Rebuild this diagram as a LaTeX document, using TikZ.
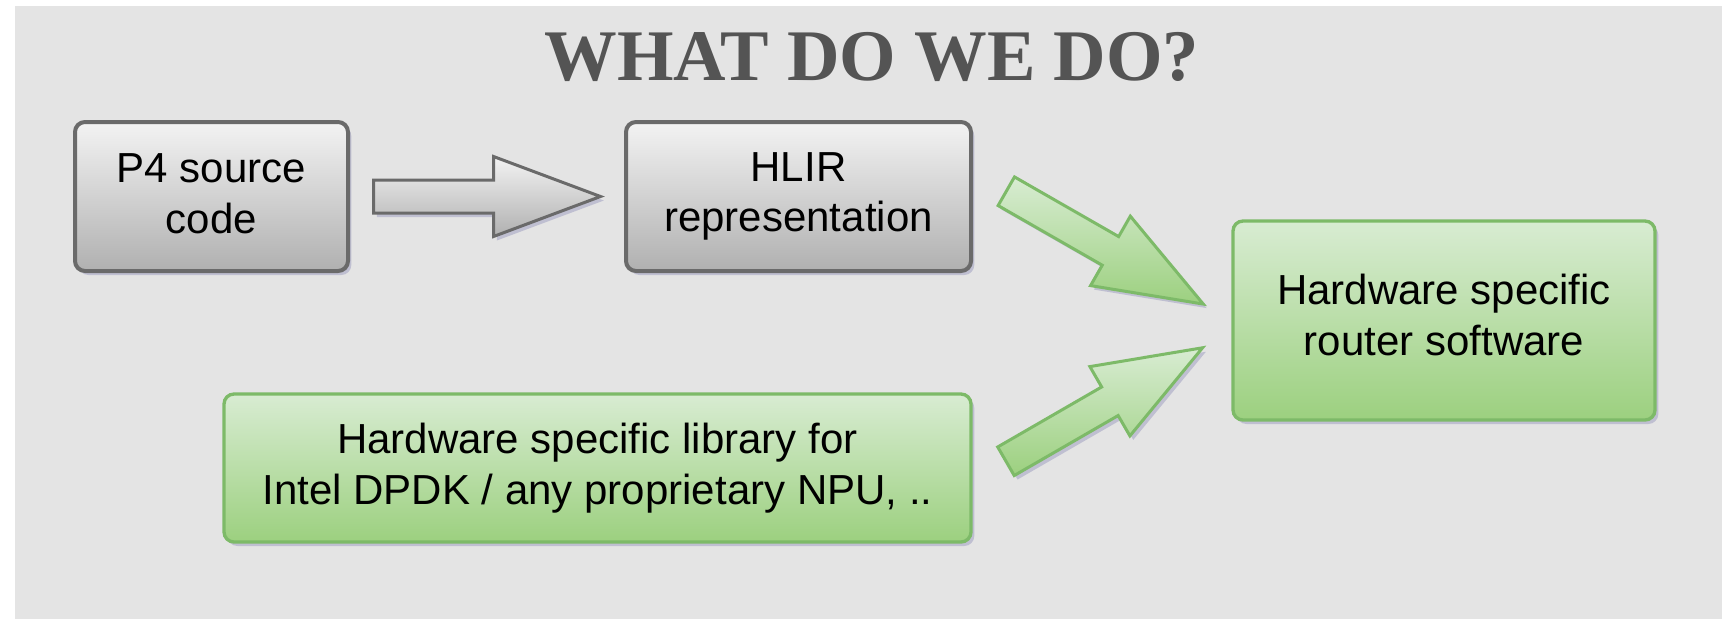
\documentclass[tikz,border=0pt]{standalone}
\usepackage{fontspec}
\setmainfont{Liberation Sans}
\newfontfamily\titlefont{Liberation Serif}
\usetikzlibrary{shapes.arrows,shadows,calc}

\definecolor{slidebg}{HTML}{E4E4E4}
\definecolor{titlegray}{HTML}{545454}
\definecolor{graytop}{HTML}{F3F3F3}
\definecolor{graybot}{HTML}{B0B0B0}
\definecolor{grayedge}{HTML}{6A6A6A}
\definecolor{greentop}{HTML}{D8ECD2}
\definecolor{greenbot}{HTML}{9CD07F}
\definecolor{greenedge}{HTML}{7DBA68}
\definecolor{shadowblue}{HTML}{9494BC}

\def\px{0.75pt}

\tikzset{
  box/.style={rounded corners=7.5pt, line width=3pt, align=center, inner sep=0pt,
    font=\fontsize{31.5}{38}\selectfont,
    drop shadow={shadow xshift=2.5pt, shadow yshift=-3pt, fill=shadowblue, opacity=0.45}},
  graybox/.style={box, draw=grayedge, top color=graytop, bottom color=graybot},
  greenbox/.style={box, draw=greenedge, top color=greentop, bottom color=greenbot, line width=2.5pt},
  fatarrow/.style={single arrow, inner xsep=0pt, inner ysep=15*\px,
    minimum height=227*\px, minimum width=77*\px,
    single arrow head extend=23.5*\px, single arrow tip angle=41, line width=2.25pt,
    drop shadow={shadow xshift=2.5pt, shadow yshift=-3pt, fill=shadowblue, opacity=0.45}},
  grayarrow/.style={fatarrow, draw=grayedge, top color=graytop, bottom color=graybot},
  greenarrow/.style={fatarrow, draw=greenedge, top color=greentop, bottom color=greenbot}
}

\begin{document}
\begin{tikzpicture}[x=\px, y=-\px]
    % Slide
    \useasboundingbox (0,0) rectangle (1734,619);
    \fill[white] (0,0) rectangle (1734,619);
    \fill[slidebg] (15,6) rectangle (1722,619);

    % Title
    \node[font=\titlefont\bfseries\fontsize{54.5}{60}\selectfont, text=titlegray, anchor=base] (title) at (872,80) {WHAT DO WE DO?};

    % Boxes
    \node[graybox, minimum width=273*\px, minimum height=149*\px, text depth=4.5pt] (p4) at (211.5,196.5) {P4 source\\code};
    \node[graybox, minimum width=345*\px, minimum height=149*\px] (hlir) at (798.5,196.5) {HLIR\\representation};
    \node[greenbox, minimum width=747*\px, minimum height=148*\px] (lib) at (597.5,468) {Hardware specific library for\\Intel DPDK / any proprietary NPU, ..};
    \node[greenbox, minimum width=422*\px, minimum height=199*\px, text depth=9pt] (router) at (1444,320.5) {Hardware specific\\router software};

    % Arrows
    \coordinate (t0) at ($(p4.east)+(22,0)$);
    \coordinate (t1) at ($(hlir.east)+(32,-6)$);
    \coordinate (t2) at ($(lib.east)+(32,-6)$);
    \node[grayarrow, anchor=tail] (a0) at (t0) {};
    \node[greenarrow, rotate=-29.8, anchor=tail] (a1) at (t1) {};
    \node[greenarrow, rotate=30, anchor=tail] (a2) at (t2) {};
\end{tikzpicture}
\end{document}
